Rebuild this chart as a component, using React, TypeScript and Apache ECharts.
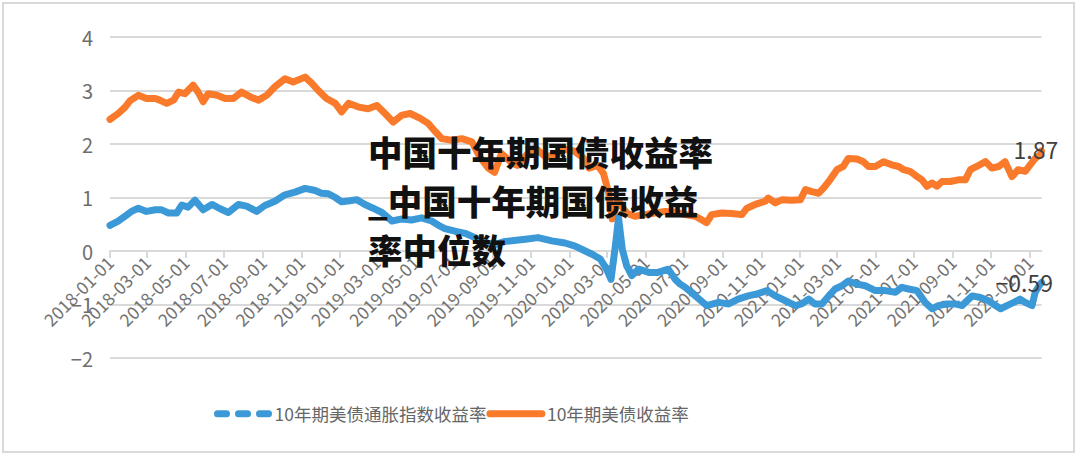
import React, { useEffect, useRef } from "react";
import * as echarts from "echarts";

// ---- categories (daily, first to last observation) ----
const startDate = "2018-01-01";
const endDate = "2022-01-20";

// ---- series: 10年期美债收益率 ----
const usDates = [
  "2018-01-01","2018-01-14","2018-01-25","2018-02-02","2018-02-15","2018-02-28","2018-03-14","2018-03-21",
  "2018-04-01","2018-04-12","2018-04-20","2018-04-30","2018-05-13","2018-05-21","2018-05-29","2018-06-06",
  "2018-06-20","2018-07-03","2018-07-16","2018-07-29","2018-08-12","2018-08-25","2018-09-07","2018-09-20",
  "2018-10-06","2018-10-19","2018-11-07","2018-11-18","2018-11-28","2018-12-11","2018-12-25","2019-01-04",
  "2019-01-15","2019-01-31","2019-02-15","2019-03-01","2019-03-14","2019-03-27","2019-04-10","2019-04-23",
  "2019-05-09","2019-05-22","2019-06-02","2019-06-12","2019-06-28","2019-07-14","2019-07-30","2019-08-12",
  "2019-08-25","2019-09-04","2019-09-15","2019-10-01","2019-10-10","2019-10-25","2019-11-08","2019-11-25",
  "2019-12-10","2019-12-25","2020-01-08","2020-01-22","2020-02-01","2020-02-15","2020-02-24","2020-03-03",
  "2020-03-09","2020-03-18","2020-03-26","2020-04-02","2020-04-14","2020-04-30","2020-05-16","2020-06-01",
  "2020-06-17","2020-07-03","2020-07-19","2020-08-06","2020-08-14","2020-08-30","2020-09-15","2020-10-01",
  "2020-10-09","2020-10-22","2020-11-07","2020-11-12","2020-11-23","2020-12-04","2020-12-19","2021-01-02",
  "2021-01-10","2021-01-20","2021-01-31","2021-02-08","2021-02-18","2021-03-01","2021-03-11","2021-03-19",
  "2021-04-02","2021-04-12","2021-04-20","2021-05-01","2021-05-14","2021-05-27","2021-06-07","2021-06-15",
  "2021-06-25","2021-07-03","2021-07-14","2021-07-22","2021-07-30","2021-08-07","2021-08-15","2021-08-28",
  "2021-09-10","2021-09-21","2021-09-29","2021-10-09","2021-10-23","2021-11-02","2021-11-13","2021-11-23",
  "2021-12-04","2021-12-14","2021-12-25","2022-01-02","2022-01-10","2022-01-18","2022-01-20",
];
const usYield = [
  2.46,2.57,2.69,2.81,2.91,2.85,2.85,2.82,
  2.76,2.82,2.97,2.94,3.10,2.97,2.79,2.94,
  2.91,2.85,2.85,2.97,2.88,2.82,2.91,3.07,
  3.22,3.16,3.25,3.13,3.00,2.85,2.76,2.60,
  2.76,2.69,2.66,2.72,2.57,2.41,2.54,2.57,
  2.48,2.38,2.23,2.10,2.07,2.10,2.04,1.75,
  1.55,1.47,1.82,1.65,1.60,1.80,1.92,1.75,
  1.82,1.90,1.87,1.75,1.55,1.60,1.45,1.10,
  0.60,0.95,0.80,0.70,0.65,0.68,0.71,0.74,
  0.73,0.68,0.65,0.53,0.68,0.71,0.70,0.68,
  0.80,0.87,0.93,0.99,0.90,0.96,0.95,0.96,
  1.15,1.11,1.08,1.18,1.33,1.52,1.58,1.73,
  1.72,1.67,1.58,1.58,1.67,1.61,1.58,1.52,
  1.49,1.42,1.33,1.21,1.27,1.21,1.30,1.30,
  1.33,1.33,1.52,1.58,1.67,1.55,1.58,1.67,
  1.39,1.52,1.49,1.61,1.73,1.80,1.87,
];

// ---- series: 10年期美债通胀指数收益率 ----
const tipsDates = [
  "2018-01-01","2018-01-14","2018-01-25","2018-02-04","2018-02-15","2018-02-28","2018-03-14","2018-03-24",
  "2018-04-04","2018-04-17","2018-04-25","2018-05-05","2018-05-16","2018-05-29","2018-06-12","2018-06-25",
  "2018-07-08","2018-07-24","2018-08-06","2018-08-22","2018-09-04","2018-09-20","2018-10-06","2018-10-22",
  "2018-11-07","2018-11-23","2018-12-03","2018-12-14","2018-12-25","2019-01-04","2019-01-17","2019-01-28",
  "2019-02-10","2019-02-23","2019-03-09","2019-03-25","2019-04-10","2019-04-25","2019-05-11","2019-05-27",
  "2019-06-07","2019-06-17","2019-07-03","2019-07-19","2019-08-04","2019-08-20","2019-09-05","2019-09-21",
  "2019-10-01","2019-10-23","2019-11-12","2019-12-04","2019-12-25","2020-01-10","2020-01-26","2020-02-06",
  "2020-02-19","2020-02-29","2020-03-07","2020-03-14","2020-03-19","2020-03-25","2020-04-01","2020-04-09",
  "2020-04-20","2020-05-06","2020-05-21","2020-06-06","2020-06-17","2020-06-25","2020-07-03","2020-07-19",
  "2020-08-06","2020-08-25","2020-09-10","2020-09-25","2020-10-11","2020-10-25","2020-11-10","2020-11-23",
  "2020-12-09","2020-12-25","2021-01-04","2021-01-15","2021-01-25","2021-02-05","2021-02-16","2021-02-26",
  "2021-03-09","2021-03-19","2021-04-02","2021-04-15","2021-05-01","2021-05-17","2021-06-02","2021-06-12",
  "2021-06-23","2021-07-06","2021-07-19","2021-07-30","2021-08-09","2021-08-23","2021-09-05","2021-09-16",
  "2021-09-21","2021-10-02","2021-10-15","2021-10-28","2021-11-08","2021-11-16","2021-11-26","2021-12-07",
  "2021-12-17","2021-12-25","2022-01-05","2022-01-10","2022-01-18","2022-01-20",
];
const tipsYield = [
  0.48,0.56,0.65,0.74,0.80,0.74,0.77,0.77,
  0.71,0.71,0.86,0.82,0.95,0.77,0.87,0.79,
  0.72,0.87,0.84,0.74,0.85,0.93,1.05,1.10,
  1.17,1.13,1.08,1.07,1.00,0.92,0.94,0.96,
  0.87,0.80,0.72,0.56,0.60,0.58,0.62,0.56,
  0.48,0.42,0.37,0.33,0.25,0.16,0.12,0.18,
  0.19,0.22,0.25,0.19,0.15,0.09,0.00,-0.06,
  -0.15,-0.34,-0.53,0.10,0.62,0.03,-0.28,-0.46,
  -0.34,-0.40,-0.40,-0.34,-0.53,-0.62,-0.68,-0.84,
  -1.02,-0.96,-0.99,-0.90,-0.84,-0.80,-0.74,-0.84,
  -0.93,-1.02,-0.99,-0.90,-0.99,-0.99,-0.84,-0.71,
  -0.65,-0.56,-0.62,-0.65,-0.74,-0.74,-0.77,-0.68,
  -0.71,-0.74,-0.96,-1.08,-1.02,-0.99,-0.99,-1.02,
  -0.96,-0.84,-0.87,-0.93,-1.02,-1.08,-1.02,-0.96,
  -0.90,-0.96,-1.02,-0.77,-0.62,-0.59,
];

const seriesNames = ["10年期美债通胀指数收益率", "10年期美债收益率"];
const titleText = "中国十年期国债收益率\n_中国十年期国债收益\n率中位数";
const yMin = -2;
const yMax = 4;

function buildCategories(): string[] {
  const out: string[] = [];
  const s = Date.parse(startDate + "T00:00:00Z");
  const e = Date.parse(endDate + "T00:00:00Z");
  for (let t = s; t <= e; t += 86400000) out.push(new Date(t).toISOString().slice(0, 10));
  return out;
}

const fmtNum = (v: number) => (v < 0 ? "−" + Math.abs(v) : String(v));

export default function App() {
  const ref = useRef<HTMLDivElement>(null);
  useEffect(() => {
    document.body.style.margin = "0";
    if (!ref.current) return;
    const chart = echarts.init(ref.current, undefined, { renderer: "svg" });
    const cats = buildCategories();
    const idx = new Map<string, number>();
    cats.forEach((c, i) => idx.set(c, i));
    const pair = (dates: string[], vals: number[]) => dates.map((d, i) => [idx.get(d), vals[i]]);
    const isTick = (_i: number, v: string) => v.slice(8) === "01" && parseInt(v.slice(5, 7), 10) % 2 === 1;
    const font = "'Noto Sans CJK SC', 'Noto Sans', sans-serif";
    const blue = "#3c99d7";
    const orange = "#f97a2b";
    const gridTop = 37;
    const gridBottomPx = 358;
    const zeroPx = gridBottomPx - ((0 - yMin) / (yMax - yMin)) * (gridBottomPx - gridTop);
    const endFmt = (p: any) => {
      const v = p.value[1] as number;
      return v < 0 ? "−" + Math.abs(v).toFixed(2) : v.toFixed(2);
    };
    chart.setOption({
      animation: false,
      backgroundColor: "#ffffff",
      textStyle: { fontFamily: font },
      grid: { left: 110, right: 38.5, top: gridTop, bottom: 457 - gridBottomPx, containLabel: false },
      xAxis: {
        type: "category",
        data: cats,
        boundaryGap: false,
        offset: -(gridBottomPx - zeroPx),
        axisLine: { onZero: false, lineStyle: { color: "#d9d9d9", width: 2 } },
        axisTick: { show: true, interval: isTick, length: 7, lineStyle: { color: "#d9d9d9", width: 2 } },
        axisLabel: { interval: isTick, rotate: 45, fontSize: 17.5, color: "#737373", margin: 8, fontFamily: font },
        splitLine: { show: false },
      },
      yAxis: {
        type: "value",
        min: yMin,
        max: yMax,
        interval: 1,
        axisLine: { show: false },
        axisTick: { show: false },
        axisLabel: { fontSize: 20, color: "#6e6e6e", margin: 17, formatter: fmtNum, fontFamily: font },
        splitLine: { lineStyle: { color: "#d9d9d9", width: 2 } },
      },
      legend: {
        left: 209,
        top: 400,
        itemWidth: 52,
        itemHeight: 20,
        itemGap: 0,
        textStyle: { fontSize: 17.5, color: "#666666", fontFamily: font },
        data: [
          {
            name: seriesNames[0],
            lineStyle: { type: [9, 12], cap: "round", width: 7 },
            itemStyle: { opacity: 0 },
          },
          { name: seriesNames[1], lineStyle: { width: 7, cap: "round" }, itemStyle: { opacity: 0 } },
        ],
      },
      series: [
        {
          name: seriesNames[1],
          type: "line",
          data: pair(usDates, usYield),
          symbol: "none",
          lineStyle: { color: orange, width: 7, cap: "round", join: "round" },
          itemStyle: { color: orange },
          z: 2,
          endLabel: { show: true, formatter: endFmt, color: "#404040", fontSize: 23, distance: 0, offset: [-28, -2] },
        },
        {
          name: seriesNames[0],
          type: "line",
          data: pair(tipsDates, tipsYield),
          symbol: "none",
          lineStyle: { color: blue, width: 7, cap: "round", join: "round" },
          itemStyle: { color: blue },
          z: 3,
          endLabel: { show: true, formatter: endFmt, color: "#404040", fontSize: 23, distance: 0, offset: [-46, -1] },
        },
      ],
      graphic: [
        {
          type: "rect",
          z: 0,
          silent: true,
          shape: { x: 3, y: 3, width: 1071, height: 449 },
          style: { fill: "none", stroke: "#d9d9d9", lineWidth: 2 },
        },
        {
          type: "text",
          z: 100,
          left: 368,
          top: 126,
          silent: true,
          style: {
            text: titleText,
            fontSize: 34.5,
            fontWeight: 900,
            lineHeight: 49,
            fill: "#111111",
            fontFamily: "'Noto Sans CJK SC', sans-serif",
          },
        },
      ],
    });
    return () => chart.dispose();
  }, []);
  return <div ref={ref} style={{ width: 1080, height: 457 }} />;
}
